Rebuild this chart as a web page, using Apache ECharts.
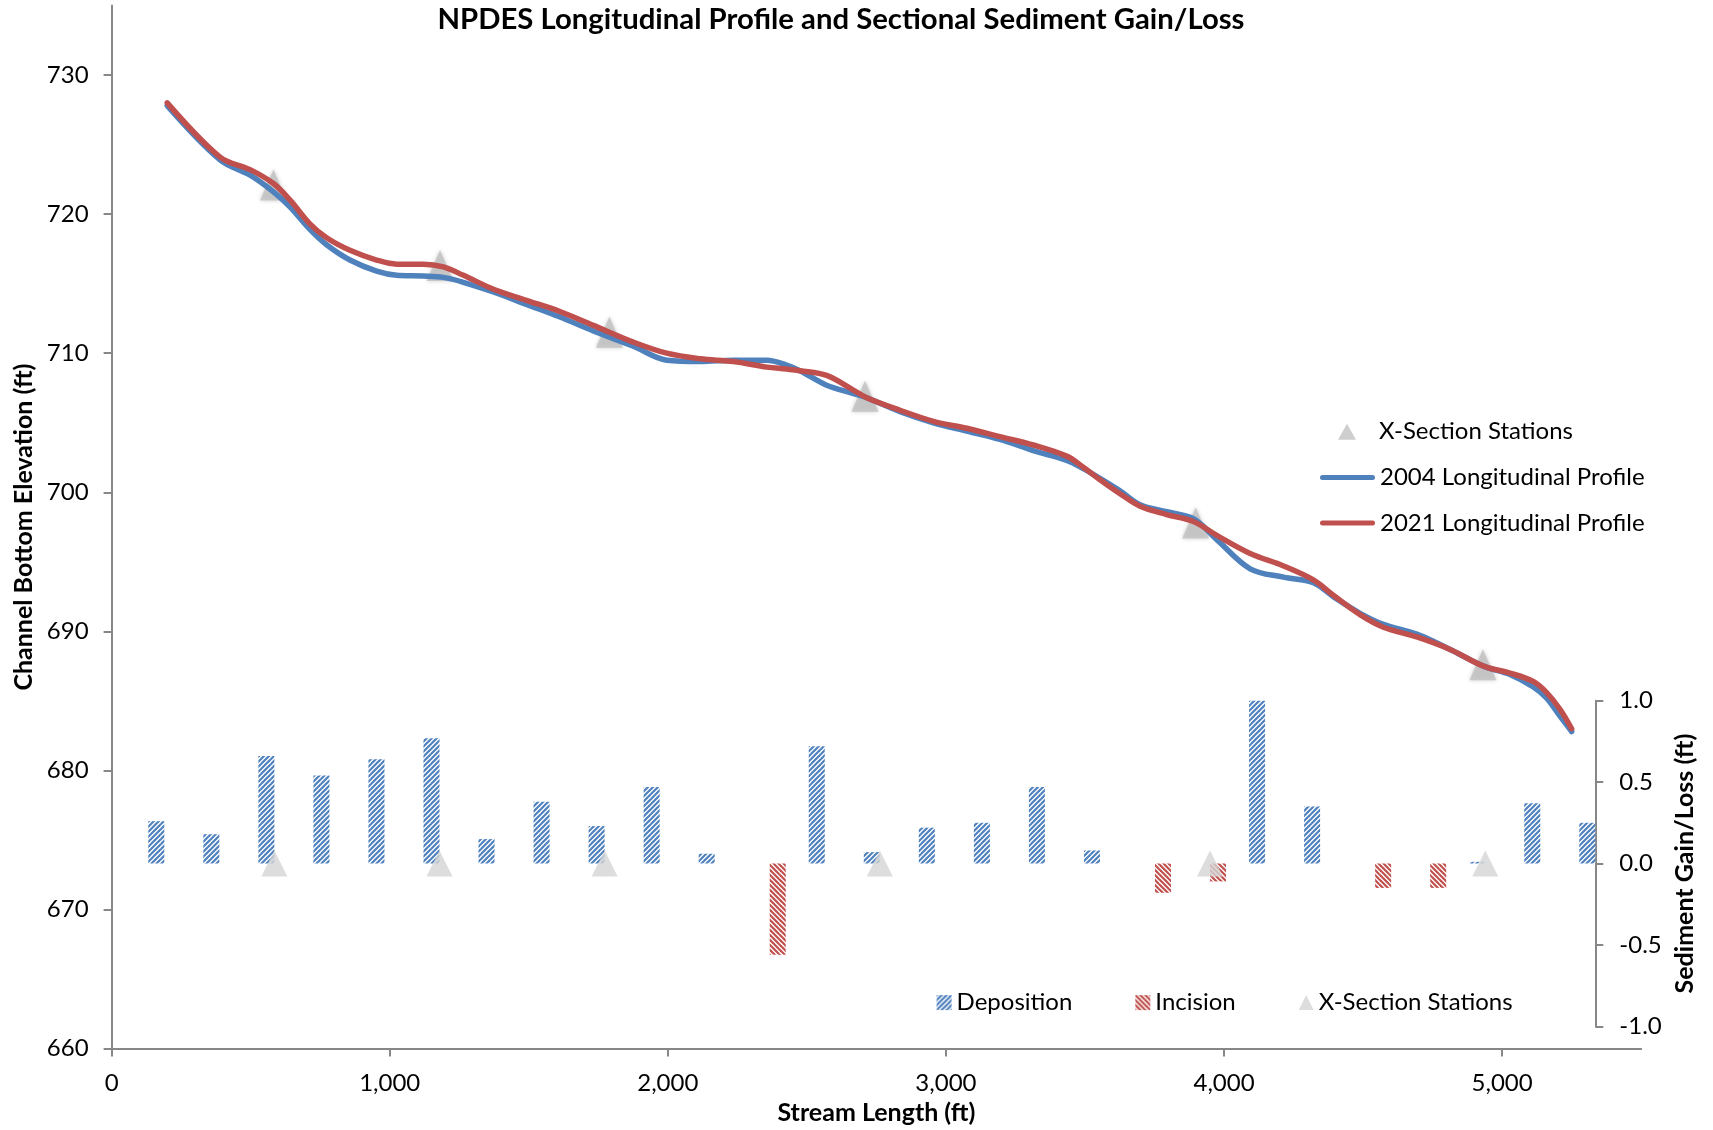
<!DOCTYPE html>
<html>
<head>
<meta charset="utf-8">
<title>NPDES Longitudinal Profile and Sectional Sediment Gain/Loss</title>
<script src="https://cdn.jsdelivr.net/npm/echarts@6/dist/echarts.min.js"></script>
<style>
  html, body { margin: 0; padding: 0; background: #fff; }
  #chart { width: 1713px; height: 1130px; }
</style>
</head>
<body>
<div id="chart"></div>
<script>
// Longitudinal profile survey points (stream length, ft)
const profileFt = [200, 390, 498, 582, 642, 713, 773, 857, 953, 1025, 1121, 1193, 1265, 1373, 1492, 1612, 1732,
  1876, 1996, 2116, 2236, 2356, 2427, 2475, 2571, 2667, 2715, 2835, 2955, 3075, 3194, 3314, 3434, 3494, 3554,
  3626, 3698, 3794, 3890, 3974, 4094, 4214, 4321, 4393, 4489, 4573, 4693, 4813, 4933, 5028, 5112, 5160, 5208, 5250];
// Channel bottom elevation (ft), 2004 survey
const elev2004 = [727.8, 723.9, 722.8, 721.6, 720.5, 718.9, 717.8, 716.7, 715.9, 715.6, 715.55, 715.45, 715.1, 714.4, 713.5, 712.6, 711.6,
  710.5, 709.5, 709.4, 709.5, 709.5, 709.15, 708.74, 707.7, 707.1, 706.8, 705.8, 705.0, 704.4, 703.8, 703.0, 702.3, 701.7, 701.0,
  700.1, 699.1, 698.6, 698.1, 696.6, 694.5, 693.9, 693.5, 692.5, 691.3, 690.5, 689.8, 688.7, 687.5, 686.9, 686.0, 685.2, 683.9, 682.8];
// Channel bottom elevation (ft), 2021 survey
const elev2021 = [728.0, 724.1, 723.2, 722.2, 721.0, 719.3, 718.3, 717.4, 716.7, 716.4, 716.4, 716.2, 715.6, 714.6, 713.8, 713.0, 712.0,
  710.8, 710.0, 709.6, 709.4, 709.0, 708.86, 708.74, 708.4, 707.35, 706.8, 705.9, 705.1, 704.6, 704.0, 703.4, 702.6, 701.8, 700.9,
  699.9, 699.0, 698.4, 697.9, 696.9, 695.6, 694.7, 693.7, 692.6, 691.2, 690.3, 689.6, 688.7, 687.5, 687.0, 686.4, 685.6, 684.4, 683.0];

// Cross-section stations along the profile
const stationFt = [582, 1181, 1790, 2709, 3898, 4931];
const stationElev = [722.1, 716.3, 711.5, 706.9, 697.8, 687.6];

// Sectional sediment gain/loss (ft) per reach
const sectionIds = ['1', '2', '3', '4', '5', '6', '7', '8', '9', '10', '11', '12', '13', '14', '15', '16', '17', '18',
  '19', '20', '21', '22', '23', '24', '25', '26', '27'];
const deposition = [0.26, 0.18, 0.66, 0.54, 0.64, 0.77, 0.15, 0.38, 0.23, 0.47, 0.06, null, 0.72, 0.07, 0.22, 0.25, 0.47, 0.08,
  null, null, 1.0, 0.35, null, null, 0.01, 0.37, 0.25];
const incision = [null, null, null, null, null, null, null, null, null, null, null, -0.56, null, null, null, null, null, null,
  -0.18, -0.11, null, null, -0.15, -0.15, null, null, null];
const stationSections = ['3', '6', '9', '14', '20', '25'];

// Axis ticks
const elevTicks = [660, 670, 680, 690, 700, 710, 720, 730];
const lengthTicks = [0, 1000, 2000, 3000, 4000, 5000];
const gainTicks = [-1, -0.5, 0, 0.5, 1];

const BLUE = '#4F81BD';
const RED = '#C0504D';
const AXIS = '#878787';
const FONT = 'Lato';

// Diagonal hatch fill for the gain/loss bars
function hatch(color, rising) {
  const s = 10, step = 5;
  const c = document.createElement('canvas');
  c.width = s; c.height = s;
  const g = c.getContext('2d');
  g.fillStyle = '#fff';
  g.fillRect(0, 0, s, s);
  g.strokeStyle = color;
  g.lineWidth = 2.2;
  for (let o = -2 * s; o <= 3 * s; o += step) {
    g.beginPath();
    if (rising) { g.moveTo(-2, o + 2); g.lineTo(s + 2, o - s - 2); }
    else { g.moveTo(-2, o - 2); g.lineTo(s + 2, o + s + 2); }
    g.stroke();
  }
  return { image: c, repeat: 'repeat' };
}

const bandIcon = 'path://M2.5,0 L52.5,0 A2.5,2.5 0 0 1 52.5,5 L2.5,5 A2.5,2.5 0 0 1 2.5,0 Z';
const labelStyle = { fontFamily: FONT, fontSize: 24, color: '#000' };
const nameStyle = { fontFamily: FONT, fontSize: 25, fontWeight: 'bold', color: '#000' };
const legendText = { fontFamily: FONT, fontSize: 24, color: '#000', lineHeight: 26 };

const chart = echarts.init(document.getElementById('chart'), null, { renderer: 'canvas' });

chart.setOption({
  animation: false,
  backgroundColor: '#fff',
  textStyle: { fontFamily: FONT },
  title: {
    text: 'NPDES Longitudinal Profile and Sectional Sediment Gain/Loss',
    left: 836, top: 0, textAlign: 'center',
    textStyle: { fontFamily: FONT, fontSize: 29.3, fontWeight: 'bold', color: '#000' }
  },
  legend: [
    {
      // station marker key, centred in the same key width as the profile lines
      orient: 'vertical', left: 1333, top: 413.7,
      itemWidth: 18, itemHeight: 16,
      selectedMode: false,
      itemStyle: { borderWidth: 0 },
      textStyle: { ...legendText, padding: [0, 0, 0, 18] },
      data: [{ name: 'X-Section Stations', icon: 'triangle', itemStyle: { color: '#C2C2C2' } }]
    },
    {
      orient: 'vertical', left: 1315, top: 459.5,
      itemWidth: 55, itemHeight: 16, itemGap: 19.5,
      selectedMode: false,
      itemStyle: { borderWidth: 0 },
      textStyle: legendText,
      data: [
        { name: '2004 Longitudinal Profile', icon: bandIcon },
        { name: '2021 Longitudinal Profile', icon: bandIcon }
      ]
    },
    {
      orient: 'horizontal', left: 931.6, top: 984.6,
      itemWidth: 15, itemHeight: 15, itemGap: 63,
      selectedMode: false,
      itemStyle: { borderWidth: 0 },
      textStyle: legendText,
      data: [
        { name: 'Deposition', icon: 'rect' },
        { name: 'Incision', icon: 'rect' },
        { name: 'X-Section Stations', icon: 'triangle', itemStyle: { color: '#D4D4D4' } }
      ]
    }
  ],
  grid: [
    { left: 111.6, right: 71.8, top: 5.5, bottom: 81.3 },
    { left: 164.3, right: 117.7, top: 700.7, bottom: 103.7 }
  ],
  xAxis: [
    {
      gridIndex: 0, type: 'value', min: 0, max: 5500, interval: 1000,
      name: 'Stream Length (ft)', nameLocation: 'middle', nameGap: 51, nameTextStyle: nameStyle,
      axisLine: { show: true, lineStyle: { color: AXIS, width: 2 } },
      axisTick: { show: true, length: 8, customValues: lengthTicks, lineStyle: { color: AXIS, width: 2 } },
      axisLabel: {
        margin: 22.5, ...labelStyle, customValues: lengthTicks,
        formatter: v => Number(v).toLocaleString('en-US')
      },
      splitLine: { show: false }
    },
    {
      gridIndex: 1, type: 'category', data: sectionIds, boundaryGap: false, show: false
    }
  ],
  yAxis: [
    {
      gridIndex: 0, type: 'value', min: 660, max: 735, interval: 10,
      name: 'Channel Bottom Elevation (ft)', nameLocation: 'middle', nameGap: 74.5, nameRotate: 90,
      nameTextStyle: nameStyle,
      axisLine: { show: true, lineStyle: { color: AXIS, width: 2 } },
      axisTick: { show: true, length: 8, customValues: elevTicks, lineStyle: { color: AXIS, width: 2 } },
      axisLabel: { margin: 23, ...labelStyle, customValues: elevTicks },
      splitLine: { show: false }
    },
    {
      gridIndex: 1, type: 'value', position: 'right', min: -1, max: 1, interval: 0.5,
      name: 'Sediment Gain/Loss (ft)', nameLocation: 'middle', nameGap: 74.5, nameRotate: 90,
      nameTextStyle: nameStyle,
      axisLine: { show: true, lineStyle: { color: AXIS, width: 2 } },
      axisTick: { show: true, length: 8, customValues: gainTicks, lineStyle: { color: AXIS, width: 2 } },
      axisLabel: { margin: 24, ...labelStyle, customValues: gainTicks, formatter: v => Number(v).toFixed(1) },
      splitLine: { show: false }
    }
  ],
  series: [
    {
      name: 'X-Section Stations', type: 'scatter', xAxisIndex: 0, yAxisIndex: 0, z: 1,
      symbol: 'triangle', symbolSize: [27, 31],
      itemStyle: { color: '#C2C2C2', shadowBlur: 4, shadowColor: 'rgba(0,0,0,0.25)' },
      data: stationFt.map((x, i) => [x, stationElev[i]])
    },
    {
      name: '2004 Longitudinal Profile', type: 'line', xAxisIndex: 0, yAxisIndex: 0, z: 2,
      smooth: 0.35, showSymbol: false, symbol: 'none', color: BLUE,
      lineStyle: { color: BLUE, width: 5.5, cap: 'round', join: 'round' },
      data: profileFt.map((x, i) => [x, elev2004[i]])
    },
    {
      name: '2021 Longitudinal Profile', type: 'line', xAxisIndex: 0, yAxisIndex: 0, z: 3,
      smooth: 0.35, showSymbol: false, symbol: 'none', color: RED,
      lineStyle: { color: RED, width: 5.5, cap: 'round', join: 'round' },
      data: profileFt.map((x, i) => [x, elev2021[i]])
    },
    {
      name: 'Deposition', type: 'bar', xAxisIndex: 1, yAxisIndex: 1, z: 2,
      barWidth: 16, barGap: '0%', clip: false,
      itemStyle: { color: hatch(BLUE, true) },
      data: deposition
    },
    {
      name: 'Incision', type: 'bar', xAxisIndex: 1, yAxisIndex: 1, z: 2,
      barWidth: 16, barGap: '0%', clip: false,
      itemStyle: { color: hatch(RED, false) },
      data: incision
    },
    {
      name: 'X-Section Stations', type: 'scatter', xAxisIndex: 1, yAxisIndex: 1, z: 5,
      symbol: 'triangle', symbolSize: 26, clip: false,
      itemStyle: { color: '#D4D4D4' },
      data: stationSections.map(s => [s, 0])
    }
  ]
});
</script>
</body>
</html>
